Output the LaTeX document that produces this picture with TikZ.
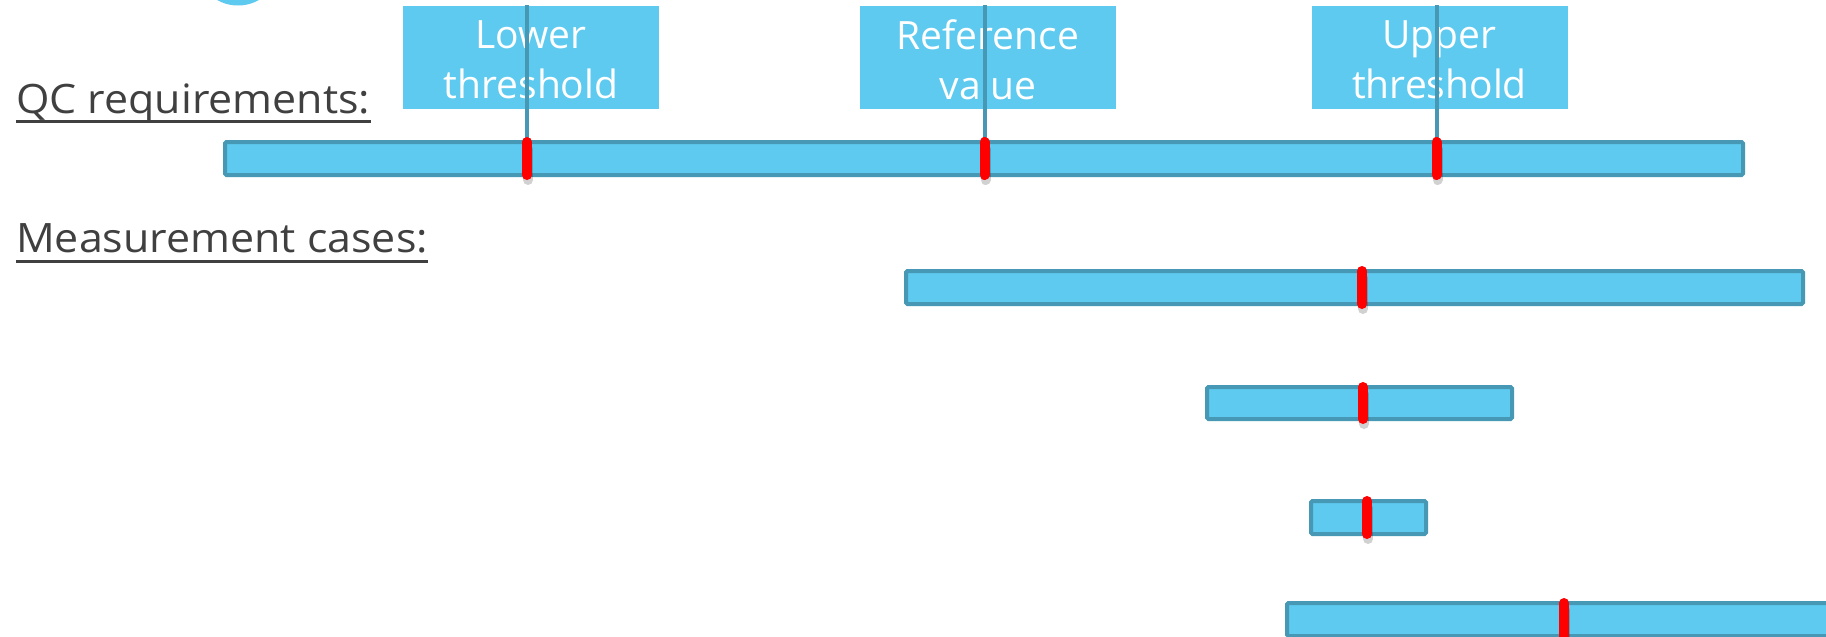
\documentclass[tikz,border=0pt]{standalone}
\usepackage{fontspec}
\setmainfont{Open Sans}
\newfontfamily\headfont[FakeStretch=1.06]{Open Sans}
\definecolor{barfill}{RGB}{94,202,239}
\definecolor{barline}{RGB}{70,152,180}
\definecolor{markred}{RGB}{255,0,0}
\definecolor{txtgray}{RGB}{64,64,64}
\begin{document}
\begin{tikzpicture}[x=1pt,y=-1pt,
  bar/.style={draw=barline, fill=barfill, line width=4pt, rounded corners=1.5pt},
  lblbox/.style={fill=barfill, inner sep=0pt, minimum width=256pt, minimum height=103pt},
  lbltext/.style={inner sep=0pt, text=white, align=center, font=\fontsize{39}{50}\selectfont},
  heading/.style={anchor=base west, inner sep=0pt, text=txtgray, font=\headfont\fontsize{40.5}{50}\selectfont},
  uline/.style={draw=txtgray, line width=3.5pt},
  tick/.style={draw=barline, line width=4pt},
  redmark/.style={draw=markred, line width=10pt, line cap=round},
  markshadow/.style={draw=black, opacity=0.18, line width=10pt, line cap=round}]
\useasboundingbox (0,0) rectangle (1826,637);
\clip (0,0) rectangle (1826,637);
\fill[white] (0,0) rectangle (1826,637);
% partial circle at the top
\fill[barfill] (238,-37) circle (42.5);

% headings
\node[heading] (qc) at (16,113) {QC requirements:};
\draw[uline] ([yshift=-8.5pt]qc.base west) -- ([yshift=-8.5pt]qc.base east);
\node[heading] (mc) at (16,252) {Measurement cases:};
\draw[uline] ([yshift=-9.5pt]mc.base west) -- ([yshift=-9.5pt]mc.base east);

% label boxes
\node[lblbox] (lo) at (531,57.5) {};
\node[lbltext] (lotxt) at (531,59.5) {Lower\\threshold};
\node[lblbox] (rv) at (988,57.5) {};
\node[lbltext] (rvtxt) at (988,59.5) {Reference\\value};
\node[lblbox] (up) at (1439.5,57.5) {};
\node[lbltext] (uptxt) at (1439.5,59.5) {Upper\\threshold};

% bars
\draw[bar] (225,142) rectangle (1743,175);
\draw[bar] (906,271) rectangle (1803,304);
\draw[bar] (1207,387) rectangle (1512,419);
\draw[bar] (1311,501) rectangle (1426,534);
\draw[bar] (1287,603) rectangle (1860,636);

% tick lines from labels to bar
\coordinate (t1) at (527,5);   \coordinate (b1) at (527,142);
\coordinate (t2) at (984.5,5); \coordinate (b2) at (984.5,142);
\coordinate (t3) at (1436.5,5);\coordinate (b3) at (1436.5,142);
\draw[tick] (t1) -- (b1);
\draw[tick] (t2) -- (b2);
\draw[tick] (t3) -- (b3);

% red marks
\foreach \x/\ya/\yb in {527/142/175, 984.5/142/175, 1436.5/142/175,
   1362/271/304, 1363/387/419, 1367/501/534, 1564/603/636}{
  \draw[markshadow] (\x+1,\ya+7) -- (\x+1,\yb+5);
  \draw[redmark] (\x,\ya) -- (\x,\yb);
}
\end{tikzpicture}
\end{document}
